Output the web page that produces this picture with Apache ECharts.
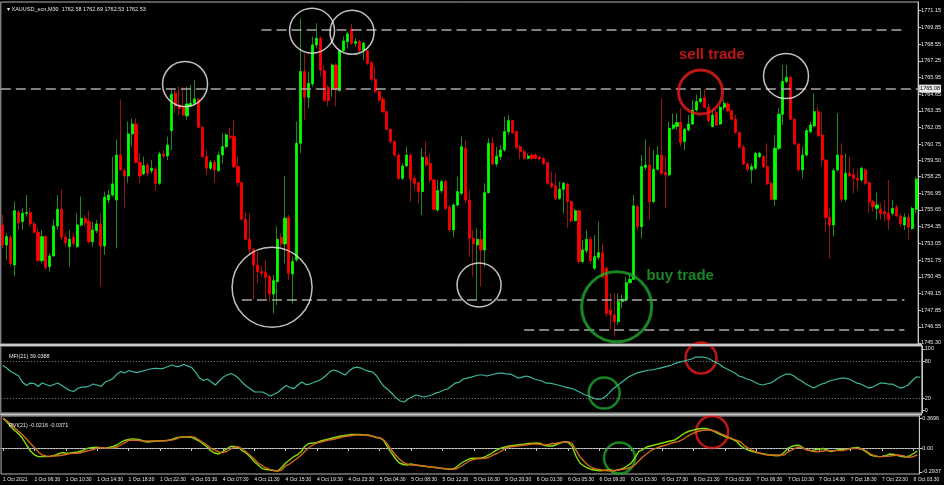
<!DOCTYPE html>
<html><head><meta charset="utf-8">
<script src="https://cdn.jsdelivr.net/npm/echarts@6/dist/echarts.min.js"></script>
<style>html,body{margin:0;padding:0;background:#000;}#c{width:944px;height:485px;}</style>
</head><body><div id="c"></div>
<script>
// ---------- data ----------
const xTickLabels = ["1 Oct 2021","1 Oct 06:30","1 Oct 10:30","1 Oct 14:30","1 Oct 18:30","1 Oct 22:30","4 Oct 03:30","4 Oct 07:30","4 Oct 11:30","4 Oct 15:30","4 Oct 19:30","4 Oct 23:30","5 Oct 04:30","5 Oct 08:30","5 Oct 12:30","5 Oct 16:30","5 Oct 20:30","6 Oct 01:30","6 Oct 05:30","6 Oct 09:30","6 Oct 13:30","6 Oct 17:30","6 Oct 21:30","7 Oct 02:30","7 Oct 06:30","7 Oct 10:30","7 Oct 14:30","7 Oct 18:30","7 Oct 22:30","8 Oct 03:30"];

const priceTicks = [1771.15,1769.85,1768.55,1767.25,1765.95,1764.65,1763.35,1762.05,1760.75,1759.50,1758.25,1756.95,1755.65,1754.35,1753.05,1751.75,1750.45,1749.15,1747.85,1746.55,1745.30];
const mfiTicks = [0,20,80,100];
const mfiLevels = [20,80];
const rviTicks = [-0.2937,0,0.3696];

const open = [
1754.48,1752.92,1753.52,1751.37,1755.49,1754.74,1755.38,1755.44,1754.56,1753.91,
1751.70,1753.57,1751.24,1752.07,1754.40,1755.70,1753.52,1752.79,1753.52,1752.79,
1754.48,1755.00,1754.74,1753.18,1754.04,1754.56,1752.84,1756.42,1756.81,1756.42,
1759.92,1758.70,1758.29,1761.56,1762.33,1759.35,1758.45,1759.14,1758.70,1758.81,
1757.72,1760.00,1759.84,1761.82,1764.72,1763.81,1763.68,1762.96,1763.73,1763.94,
1764.25,1762.07,1759.79,1758.89,1759.35,1758.70,1759.92,1760.57,1761.40,1761.35,
1759.02,1757.77,1754.92,1753.36,1752.58,1751.37,1750.85,1750.77,1750.46,1749.11,
1750.07,1753.52,1753.00,1755.07,1750.67,1751.75,1760.83,1766.41,1764.41,1765.45,
1768.48,1769.00,1766.48,1765.19,1765.03,1766.92,1764.93,1768.04,1768.74,1769.70,
1768.61,1768.74,1768.09,1768.04,1767.11,1765.81,1764.85,1764.25,1763.29,1761.92,
1760.96,1759.92,1758.11,1759.07,1759.92,1758.11,1757.77,1757.07,1759.74,1759.27,
1757.98,1755.64,1757.15,1757.85,1755.85,1754.09,1756.03,1756.94,1760.44,1756.42,
1753.44,1752.92,1753.36,1752.53,1756.99,1760.83,1759.22,1759.79,1760.31,1761.74,
1762.59,1761.74,1760.57,1760.18,1759.66,1759.92,1759.92,1759.74,1759.66,1759.33,
1757.72,1757.51,1756.55,1757.25,1757.67,1756.29,1754.81,1755.59,1751.63,1752.48,
1753.36,1751.11,1751.96,1752.32,1751.11,1747.86,1747.48,1746.96,1748.51,1748.64,
1749.99,1750.25,1755.90,1754.35,1758.96,1759.14,1756.29,1758.81,1759.92,1758.55,
1758.37,1762.00,1762.13,1762.44,1760.96,1761.87,1762.33,1763.42,1764.07,1764.38,
1763.63,1762.13,1763.22,1762.33,1763.63,1763.89,1763.37,1762.70,1761.66,1760.52,
1759.22,1758.76,1758.89,1759.79,1759.79,1759.02,1757.72,1756.47,1760.44,1763.09,
1765.63,1765.96,1762.70,1760.78,1758.76,1759.92,1761.74,1762.18,1763.29,1761.48,
1759.53,1755.07,1754.48,1758.76,1759.92,1756.47,1758.50,1758.37,1758.11,1757.98,
1758.76,1757.77,1756.29,1755.77,1755.70,1755.51,1755.38,1755.38,1755.85,1755.18,
1754.48,1755.07,1754.22,1755.70];

const close = [
1752.92,1753.57,1751.49,1755.59,1754.66,1755.38,1755.44,1754.56,1753.91,1751.70,
1753.57,1751.18,1752.07,1754.40,1755.70,1753.52,1753.10,1753.36,1753.05,1754.48,
1755.00,1754.66,1753.18,1754.09,1754.56,1752.84,1756.63,1756.81,1757.67,1759.92,
1758.76,1758.29,1761.56,1762.33,1759.35,1758.29,1759.09,1758.50,1758.89,1757.72,
1760.00,1759.84,1760.70,1764.64,1763.73,1763.55,1763.03,1763.89,1763.94,1764.28,
1762.07,1759.79,1758.89,1759.35,1758.76,1759.92,1760.57,1761.48,1761.30,1759.02,
1757.77,1754.92,1753.36,1752.58,1751.37,1750.85,1750.72,1750.41,1749.11,1750.15,
1753.36,1753.00,1755.00,1750.72,1751.63,1760.83,1766.41,1764.41,1765.50,1768.48,
1769.00,1766.53,1764.15,1764.15,1766.92,1764.98,1768.04,1768.79,1769.34,1768.61,
1768.74,1768.04,1768.61,1767.05,1765.81,1764.85,1764.20,1763.29,1761.92,1760.96,
1759.92,1758.11,1759.07,1759.92,1758.03,1757.72,1757.07,1759.74,1759.14,1757.98,
1755.70,1757.15,1757.85,1755.77,1754.09,1756.03,1757.07,1760.57,1756.42,1753.44,
1753.00,1753.36,1752.53,1756.99,1760.83,1759.22,1759.84,1760.31,1761.74,1762.59,
1761.66,1760.52,1760.18,1759.66,1759.84,1759.66,1759.66,1759.61,1759.27,1757.72,
1757.46,1756.55,1757.25,1757.72,1756.29,1754.81,1755.59,1751.63,1752.53,1753.36,
1751.70,1752.01,1752.32,1750.46,1747.60,1747.48,1746.96,1748.51,1748.69,1749.99,
1750.25,1755.96,1754.35,1759.02,1759.14,1756.29,1758.81,1759.92,1758.50,1758.37,
1762.00,1762.26,1762.44,1760.88,1761.92,1762.33,1763.42,1764.07,1764.30,1763.63,
1762.59,1763.03,1762.26,1763.63,1763.94,1763.37,1762.70,1761.66,1760.52,1759.22,
1758.81,1759.02,1760.05,1760.05,1759.02,1757.67,1756.47,1760.44,1763.09,1765.63,
1765.96,1762.70,1760.78,1758.76,1759.92,1761.82,1762.26,1763.29,1761.40,1759.53,
1755.07,1754.48,1758.70,1759.92,1756.47,1758.50,1758.29,1758.11,1757.98,1758.89,
1757.72,1756.29,1755.90,1756.03,1755.38,1755.33,1754.87,1755.77,1755.18,1754.56,
1755.07,1754.30,1755.77,1758.03];

const low = [
1752.66,1751.75,1751.24,1750.51,1754.09,1754.09,1755.13,1754.35,1753.83,1751.63,
1751.49,1750.98,1750.85,1752.01,1754.09,1753.31,1752.79,1751.24,1752.79,1752.66,
1754.35,1754.35,1753.05,1752.79,1753.83,1749.68,1752.14,1756.16,1756.68,1752.66,
1758.70,1755.77,1757.72,1760.57,1759.27,1757.72,1758.37,1758.24,1758.50,1757.15,
1757.59,1759.66,1759.53,1760.31,1763.16,1763.03,1762.96,1762.65,1763.68,1763.81,
1762.00,1759.74,1758.37,1758.76,1757.77,1758.63,1759.27,1760.44,1761.09,1758.89,
1757.46,1754.87,1753.31,1752.27,1748.64,1749.94,1750.46,1748.64,1748.51,1747.60,
1748.25,1752.79,1751.49,1750.20,1748.38,1751.63,1760.05,1762.65,1763.55,1765.24,
1768.22,1766.02,1764.07,1763.68,1764.46,1763.68,1764.85,1767.96,1768.22,1768.48,
1768.35,1767.88,1767.31,1766.92,1765.63,1764.72,1764.07,1763.16,1761.87,1760.83,
1759.79,1757.98,1757.98,1759.02,1756.29,1757.20,1756.16,1755.25,1759.02,1757.77,
1755.59,1755.51,1756.94,1755.64,1753.96,1753.52,1755.90,1756.81,1756.16,1752.01,
1750.46,1748.64,1749.68,1751.24,1756.94,1759.14,1759.02,1759.53,1760.18,1761.48,
1761.56,1760.36,1759.59,1759.59,1759.59,1759.53,1759.59,1759.53,1759.14,1757.59,
1757.33,1756.42,1756.42,1755.38,1754.22,1754.66,1754.74,1751.49,1751.49,1752.27,
1751.49,1750.98,1751.75,1750.33,1747.35,1746.31,1745.79,1746.70,1747.99,1748.51,
1749.94,1750.20,1754.09,1753.44,1758.76,1754.87,1756.16,1758.70,1758.37,1755.77,
1758.24,1761.87,1761.87,1760.57,1760.31,1761.74,1762.26,1763.29,1763.94,1763.55,
1762.44,1762.07,1762.18,1762.26,1763.42,1763.22,1762.59,1761.61,1760.44,1759.14,
1758.63,1757.72,1758.76,1759.66,1758.89,1757.59,1756.42,1755.96,1760.31,1762.26,
1765.50,1762.65,1760.70,1758.63,1758.11,1759.79,1761.61,1762.07,1761.35,1759.02,
1753.96,1751.88,1753.57,1758.63,1756.29,1756.29,1758.24,1756.94,1757.20,1757.85,
1757.59,1755.38,1755.51,1754.87,1754.87,1754.74,1754.09,1755.25,1755.13,1754.35,
1754.09,1753.31,1754.09,1755.38];

const high = [
1755.26,1753.83,1753.70,1756.29,1755.64,1755.77,1756.81,1755.85,1754.74,1754.22,
1754.09,1753.70,1752.27,1754.92,1756.81,1757.25,1753.83,1754.09,1753.83,1755.38,
1756.68,1755.26,1755.57,1754.74,1754.87,1755.38,1757.07,1757.20,1759.79,1761.14,
1764.25,1758.89,1762.52,1762.77,1762.77,1760.05,1759.79,1759.27,1759.53,1759.02,
1760.18,1760.31,1761.35,1765.11,1765.11,1765.24,1765.24,1765.24,1765.37,1765.76,
1764.33,1762.18,1760.31,1759.53,1759.53,1760.18,1761.61,1761.61,1762.05,1762.65,
1759.79,1757.85,1755.51,1755.38,1752.66,1752.40,1751.24,1751.75,1750.59,1750.59,
1754.35,1753.83,1758.29,1755.26,1752.01,1762.52,1770.55,1767.83,1766.41,1769.13,
1770.17,1769.13,1766.92,1765.37,1767.05,1767.05,1768.09,1769.13,1769.52,1770.11,
1769.00,1768.87,1768.74,1768.09,1767.18,1766.80,1765.11,1764.46,1763.35,1762.00,
1761.09,1760.05,1759.27,1760.57,1760.05,1758.37,1757.85,1760.44,1760.96,1760.05,
1758.03,1757.98,1757.98,1757.98,1756.03,1756.16,1758.24,1761.35,1761.09,1757.20,
1754.09,1754.22,1754.09,1757.72,1761.22,1761.30,1760.57,1760.70,1762.90,1763.03,
1762.65,1761.82,1760.70,1760.31,1760.05,1760.05,1760.05,1759.84,1759.79,1759.40,
1758.63,1758.50,1757.85,1757.85,1757.77,1756.35,1755.70,1755.64,1753.31,1754.09,
1753.57,1753.70,1754.74,1753.05,1751.24,1749.16,1749.16,1749.16,1749.03,1750.46,
1750.59,1756.81,1756.03,1759.92,1761.14,1760.57,1760.31,1760.62,1764.30,1759.79,
1762.52,1763.16,1763.16,1763.55,1762.00,1763.03,1764.20,1764.59,1764.98,1765.03,
1763.94,1763.42,1763.42,1763.73,1764.25,1764.07,1763.42,1763.03,1761.74,1760.70,
1759.33,1759.27,1760.18,1760.18,1759.92,1760.83,1757.85,1761.48,1763.55,1766.92,
1766.92,1766.07,1762.77,1760.83,1760.57,1762.00,1762.52,1764.72,1763.68,1763.29,
1759.59,1755.77,1758.89,1763.16,1760.83,1760.05,1759.79,1758.89,1758.76,1759.02,
1758.89,1757.85,1756.42,1756.99,1756.16,1756.42,1757.98,1756.42,1756.03,1755.38,
1755.38,1755.38,1755.90,1758.24];

const mfi = [
72.9,68.8,63.1,59.9,55.9,46.1,40.5,44.5,43.7,38.9,
44.5,42.1,39.7,42.1,44.5,40.5,36.4,32.4,30.8,35.6,
38.0,38.0,39.7,42.9,41.3,38.9,46.1,48.6,51.8,59.1,
63.1,60.7,64.8,63.1,61.5,63.1,64.8,66.4,68.0,68.5,
67.5,68.8,71.2,73.7,71.2,72.0,74.5,72.0,69.6,62.3,
52.6,48.6,51.0,46.1,41.3,47.8,54.2,57.5,59.9,56.7,
51.8,44.5,38.9,34.8,30.0,30.0,30.0,26.7,23.5,26.7,
30.0,35.6,40.5,37.2,35.6,41.3,46.1,42.1,42.9,45.3,
47.8,51.0,55.9,62.3,65.6,63.9,60.7,57.5,63.9,68.8,
70.4,68.8,65.6,63.9,62.3,55.9,46.1,38.0,33.2,26.7,
20.2,15.4,13.8,18.6,21.9,25.1,23.5,21.9,23.5,25.1,
28.3,30.0,33.2,34.8,39.7,44.5,46.1,51.0,52.6,54.2,
55.9,57.5,57.5,55.9,57.5,59.1,60.7,60.7,59.1,59.1,
55.9,52.6,54.2,55.9,54.2,51.0,49.4,47.8,44.5,44.5,
42.9,41.3,39.7,38.0,36.4,34.8,31.6,28.3,25.1,23.5,
20.2,18.6,18.6,21.9,28.3,34.8,39.7,44.5,49.4,54.2,
57.5,60.7,62.3,63.9,65.6,65.6,67.2,68.8,70.4,72.0,
73.7,76.9,78.5,80.1,81.8,83.4,86.6,86.6,86.6,85.0,
81.8,78.5,75.3,70.4,67.2,63.9,60.7,55.9,54.2,51.0,
49.4,46.1,42.9,41.3,42.9,44.5,47.8,52.6,55.9,59.1,
59.1,55.9,51.0,47.8,42.9,39.7,36.4,39.7,42.9,44.5,
47.8,49.4,51.0,52.6,52.6,51.0,47.8,44.5,42.9,39.7,
36.4,38.0,41.3,44.5,44.5,42.9,42.9,39.7,36.4,38.0,
41.3,47.8,54.2,54.2];

const rviMain = [
0.367,0.321,0.263,0.216,0.173,0.117,0.037,-0.037,-0.086,-0.107,
-0.107,-0.107,-0.105,-0.093,-0.074,-0.058,-0.062,-0.065,-0.056,-0.049,
-0.037,-0.012,0.000,0.006,0.009,0.002,-0.004,0.006,0.019,0.037,
0.068,0.093,0.107,0.111,0.109,0.101,0.080,0.074,0.080,0.086,
0.086,0.089,0.093,0.105,0.124,0.132,0.138,0.136,0.133,0.111,
0.086,0.049,0.012,-0.037,-0.062,-0.074,-0.043,-0.012,0.019,0.019,
0.006,-0.037,-0.065,-0.111,-0.167,-0.210,-0.251,-0.266,-0.272,-0.278,
-0.284,-0.241,-0.185,-0.148,-0.111,-0.086,-0.043,0.025,0.056,0.062,
0.070,0.086,0.099,0.111,0.124,0.136,0.148,0.154,0.161,0.167,
0.167,0.167,0.161,0.161,0.148,0.130,0.124,0.093,0.012,-0.062,
-0.130,-0.185,-0.204,-0.210,-0.198,-0.210,-0.216,-0.222,-0.228,-0.235,
-0.238,-0.247,-0.253,-0.259,-0.263,-0.253,-0.216,-0.179,-0.154,-0.130,
-0.127,-0.127,-0.124,-0.105,-0.080,-0.049,-0.019,0.000,0.012,0.025,
0.031,0.037,0.043,0.049,0.056,0.059,0.062,0.056,0.031,0.025,
0.025,0.043,0.062,0.077,0.068,0.025,-0.099,-0.185,-0.222,-0.247,
-0.266,-0.275,-0.280,-0.278,-0.272,-0.275,-0.280,-0.266,-0.251,-0.222,
-0.189,-0.124,-0.043,-0.019,0.012,0.025,0.037,0.049,0.062,0.074,
0.086,0.095,0.124,0.161,0.191,0.210,0.222,0.235,0.241,0.241,
0.228,0.210,0.185,0.161,0.142,0.124,0.105,0.080,0.025,-0.006,
-0.028,-0.043,-0.056,-0.065,-0.074,-0.084,-0.090,-0.096,-0.093,-0.056,
-0.006,0.019,0.033,0.031,0.000,-0.025,-0.033,-0.022,-0.012,-0.006,
-0.025,-0.043,-0.031,-0.022,-0.019,-0.016,-0.006,0.004,0.006,-0.019,
-0.049,-0.086,-0.099,-0.107,-0.103,-0.093,-0.074,-0.080,-0.093,-0.105,
-0.111,-0.099,-0.068,-0.037];

const rviSignal = [
0.370,0.333,0.296,0.247,0.204,0.161,0.111,0.056,0.006,-0.049,
-0.086,-0.099,-0.101,-0.099,-0.096,-0.090,-0.080,-0.068,-0.065,-0.065,
-0.056,-0.040,-0.033,-0.019,0.000,0.004,0.000,-0.004,0.000,0.012,
0.037,0.062,0.093,0.099,0.095,0.089,0.086,0.086,0.086,0.086,
0.086,0.089,0.095,0.099,0.111,0.130,0.138,0.140,0.140,0.130,
0.099,0.068,0.037,-0.006,-0.025,-0.049,-0.058,-0.043,-0.012,0.012,
0.012,-0.012,-0.049,-0.093,-0.136,-0.185,-0.216,-0.247,-0.263,-0.278,
-0.284,-0.272,-0.222,-0.198,-0.161,-0.127,-0.086,-0.037,0.006,0.037,
0.062,0.074,0.086,0.099,0.105,0.117,0.130,0.142,0.148,0.154,
0.161,0.161,0.161,0.154,0.148,0.136,0.124,0.099,0.049,-0.025,
-0.086,-0.136,-0.179,-0.198,-0.210,-0.210,-0.216,-0.222,-0.228,-0.231,
-0.241,-0.247,-0.251,-0.256,-0.259,-0.263,-0.247,-0.216,-0.185,-0.154,
-0.140,-0.132,-0.130,-0.127,-0.111,-0.086,-0.065,-0.037,-0.004,0.012,
0.019,0.025,0.031,0.037,0.043,0.049,0.049,0.043,0.037,0.043,
0.056,0.058,0.068,0.074,0.078,0.056,-0.025,-0.107,-0.161,-0.210,
-0.241,-0.259,-0.266,-0.275,-0.280,-0.280,-0.278,-0.272,-0.263,-0.253,
-0.238,-0.210,-0.161,-0.111,-0.074,-0.037,-0.012,0.009,0.025,0.037,
0.056,0.068,0.078,0.099,0.130,0.161,0.185,0.204,0.216,0.222,
0.222,0.216,0.198,0.173,0.154,0.130,0.111,0.093,0.074,0.025,
-0.004,-0.031,-0.049,-0.068,-0.080,-0.086,-0.086,-0.086,-0.086,-0.086,
-0.049,-0.025,0.000,0.009,-0.006,-0.025,-0.037,-0.046,-0.043,-0.037,
-0.033,-0.033,-0.033,-0.033,-0.031,-0.019,-0.006,-0.004,-0.009,-0.016,
-0.037,-0.074,-0.093,-0.107,-0.105,-0.101,-0.099,-0.093,-0.086,-0.093,
-0.105,-0.115,-0.105,-0.086];

// annotations (bar index, value)
const levelLine = 1765.08;
const dashedSegments = [[66,230,1769.70],[61,230,1748.64],[133,230,1746.36]];
const whiteCircles = [[46.5,1765.44],[78.9,1769.59],[89.1,1769.46],[68.7,1749.63],[121.5,1749.81],[199.8,1766.06]];
const whiteCircleDiam = [45,45,44,80,44,45];
const buyCircleMain = [156.6,1748.12];
const sellCircleMain = [178.0,1764.82];
const buyCircleMfi = [152.8,28.3];
const sellCircleMfi = [177.4,85.0];
const buyCircleRvi = [157.1,-0.124];
const sellCircleRvi = [180.7,0.198];
const sellText = ["sell trade",180.9,1767.70];
const buyText = ["buy trade",172.8,1750.51];
const headerText = "XAUUSD_ecn,M30  1762.58 1762.69 1762.53 1762.53";
const mfiText = "MFI(21) 39.0388";
const rviText = "RVI(21) -0.0216 -0.0371";

// ---------- chart ----------
const FONT = 'Liberation Sans';
const N = open.length;
const cats = open.map((_, i) => i);
const candles = open.map((o, i) => [o, close[i], low[i], high[i]]);
const bodies = open.map((o, i) => [o, close[i], Math.min(o, close[i]), Math.max(o, close[i])]);
const GREEN = '#00ff00', RED = '#ff0000';
const G_CIRCLE = '#1ea82a', R_CIRCLE = '#ec1c1c';
const AXIS_COL = '#c8c8c8', LABEL_COL = '#e6e6e6';

const gridPos = [
  {left: 0.8, width: 921, top: 2, height: 342},
  {left: 0.8, width: 921, top: 346, height: 67},
  {left: 0.8, width: 921, top: 416, height: 58}
];

function catAxis(g) {
  const last = g === 2;
  return {
    type: 'category', gridIndex: g, data: cats, boundaryGap: true,
    axisLine: {show: last, lineStyle: {color: AXIS_COL, width: 1}},
    axisTick: {show: last, interval: 7, alignWithLabel: true, length: 3, lineStyle: {color: AXIS_COL}},
    axisLabel: {show: last, interval: 7, align: 'left', margin: 3, fontSize: 5, color: LABEL_COL, fontFamily: FONT,
      formatter: (v, idx) => xTickLabels[Math.round(idx / 8)] || ''},
    splitLine: {show: false}
  };
}
function valAxisX(g) {
  return {type: 'value', gridIndex: g, min: -0.5, max: N - 0.5, show: false};
}
function yAxisCfg(g, min, max, ticks, fmt) {
  return {
    type: 'value', gridIndex: g, position: 'right', min: min, max: max, scale: true,
    axisLine: {show: true, onZero: false, lineStyle: {color: AXIS_COL, width: 1}},
    axisTick: {show: true, length: 3, customValues: ticks, lineStyle: {color: AXIS_COL}},
    axisLabel: {show: true, customValues: ticks, margin: 3, fontSize: 5.5, color: LABEL_COL, fontFamily: FONT, formatter: fmt},
    splitLine: {show: false}
  };
}
function circle(pt, size, col, w) {
  return {value: pt, symbolSize: size, itemStyle: {color: 'rgba(0,0,0,0)', borderColor: col, borderWidth: w}};
}

const option = {
  backgroundColor: '#000',
  animation: false,
  textStyle: {fontFamily: FONT},
  title: [
    {text: '\u25BE ' + headerText, left: 2, top: 1, textStyle: {fontSize: 5.5, color: LABEL_COL, fontWeight: 'normal', fontFamily: FONT}},
    {text: mfiText, left: 4, top: 348, textStyle: {fontSize: 5.5, color: LABEL_COL, fontWeight: 'normal', fontFamily: FONT}},
    {text: rviText, left: 4, top: 417, textStyle: {fontSize: 5.5, color: LABEL_COL, fontWeight: 'normal', fontFamily: FONT}}
  ],
  grid: gridPos.map(g => Object.assign({show: true, borderColor: '#b4b4b4', borderWidth: 1, backgroundColor: '#000'}, g)),
  graphic: [
    {type: 'rect', shape: {x: 0, y: 344, width: 922, height: 2}, style: {fill: '#c8c8c8'}, z: 100},
    {type: 'rect', shape: {x: 0, y: 413.5, width: 922, height: 2}, style: {fill: '#c8c8c8'}, z: 100}
  ],
  xAxis: [catAxis(0), catAxis(1), catAxis(2), valAxisX(0), valAxisX(1), valAxisX(2)],
  yAxis: [
    yAxisCfg(0, 1745.22, 1771.82, priceTicks, v => v.toFixed(2)),
    yAxisCfg(1, -4, 104.5, mfiTicks, v => String(Math.round(v))),
    yAxisCfg(2, -0.321, 0.395, rviTicks, v => (v === 0 ? '0.00' : v.toFixed(4)))
  ],
  series: [
    // wicks
    {type: 'candlestick', xAxisIndex: 0, yAxisIndex: 0, data: candles, barWidth: 1,
      itemStyle: {color: '#1f8a1f', color0: '#9a1212', borderColor: '#1f8a1f', borderColor0: '#9a1212', borderWidth: 1}},
    // bodies
    {type: 'candlestick', xAxisIndex: 0, yAxisIndex: 0, data: bodies, barWidth: 2.6,
      itemStyle: {color: GREEN, color0: RED, borderColor: GREEN, borderColor0: RED, borderWidth: 0.8}},
    // white circles + dashed levels
    {type: 'scatter', xAxisIndex: 3, yAxisIndex: 0, symbol: 'circle', silent: true, z: 5,
      data: whiteCircles.map((p, i) => circle(p, whiteCircleDiam[i], '#f0f0f0', 1.5)),
      markLine: {
        silent: true, symbol: ['none', 'none'],
        lineStyle: {color: '#a8a8a8', width: 1.5, type: [10, 5]},
        label: {show: false},
        data: [
          {yAxis: levelLine, label: {show: true, position: 'end', distance: 1, formatter: levelLine.toFixed(2),
            backgroundColor: '#e8e8e8', color: '#000', fontSize: 5.5, padding: [1, 1], fontFamily: FONT}}
        ].concat(dashedSegments.map(s => [{coord: [s[0], s[2]]}, {coord: [s[1], s[2]]}]))
      }
    },
    {type: 'scatter', xAxisIndex: 3, yAxisIndex: 0, symbol: 'circle', silent: true, z: 6,
      data: [circle(buyCircleMain, 70, G_CIRCLE, 3), circle(sellCircleMain, 44, R_CIRCLE, 3)]},
    {type: 'scatter', xAxisIndex: 3, yAxisIndex: 0, symbolSize: 1, silent: true, z: 7,
      itemStyle: {color: 'rgba(0,0,0,0)'},
      data: [
        {value: [sellText[1], sellText[2]], label: {show: true, position: 'inside', formatter: sellText[0], color: R_CIRCLE, fontSize: 15, fontWeight: 'bold', fontFamily: FONT}},
        {value: [buyText[1], buyText[2]], label: {show: true, position: 'inside', formatter: buyText[0], color: G_CIRCLE, fontSize: 15, fontWeight: 'bold', fontFamily: FONT}}
      ]},
    // MFI
    {type: 'line', xAxisIndex: 1, yAxisIndex: 1, data: mfi, symbol: 'none', smooth: false,
      lineStyle: {color: '#3cb8a0', width: 1.2},
      markLine: {silent: true, symbol: ['none', 'none'], label: {show: false},
        lineStyle: {color: '#8c8c8c', width: 1, type: [1, 2]},
        data: mfiLevels.map(v => ({yAxis: v}))}},
    {type: 'scatter', xAxisIndex: 4, yAxisIndex: 1, symbol: 'circle', silent: true,
      data: [circle(buyCircleMfi, 31, G_CIRCLE, 2.5), circle(sellCircleMfi, 31, R_CIRCLE, 2.5)]},
    // RVI
    {type: 'line', xAxisIndex: 2, yAxisIndex: 2, data: rviMain, symbol: 'none',
      lineStyle: {color: '#86e000', width: 1.4},
      markLine: {silent: true, symbol: ['none', 'none'], label: {show: false},
        lineStyle: {color: '#8c8c8c', width: 1, type: [1, 2]}, data: [{yAxis: 0}]}},
    {type: 'line', xAxisIndex: 2, yAxisIndex: 2, data: rviSignal, symbol: 'none',
      lineStyle: {color: '#d2691e', width: 1.4}},
    {type: 'scatter', xAxisIndex: 5, yAxisIndex: 2, symbol: 'circle', silent: true,
      data: [circle(buyCircleRvi, 31, G_CIRCLE, 2.5), circle(sellCircleRvi, 32, R_CIRCLE, 2.5)]}
  ]
};

const chart = echarts.init(document.getElementById('c'), null, {renderer: 'canvas'});
chart.setOption(option);
</script>
</body></html>
